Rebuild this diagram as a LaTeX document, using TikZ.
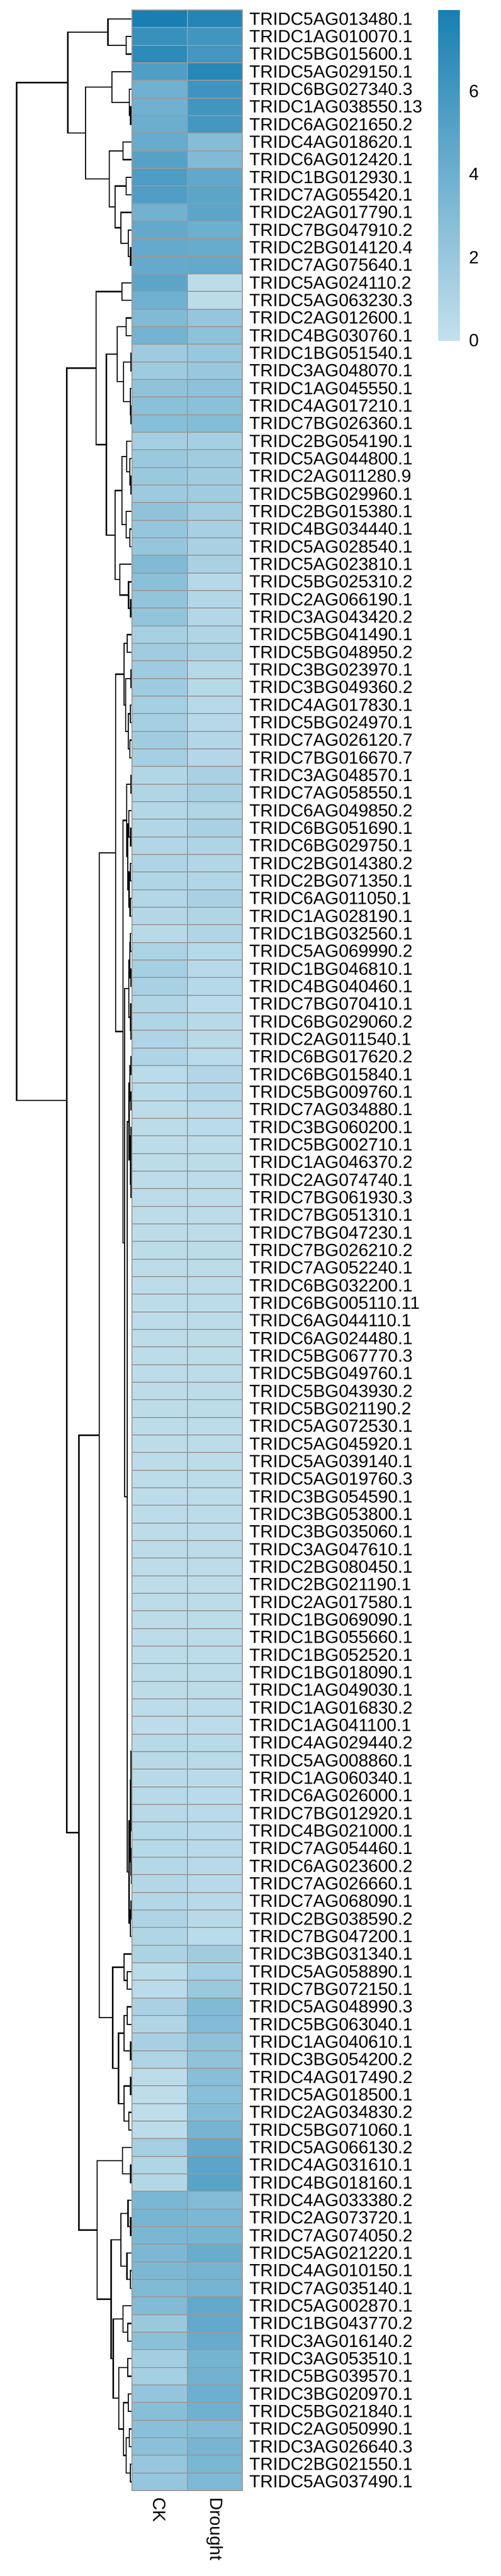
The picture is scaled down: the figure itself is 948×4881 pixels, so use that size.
\documentclass[tikz,border=0pt]{standalone}
\usepackage{fontspec}
\setmainfont{Liberation Sans}
\usetikzlibrary{calc}

\definecolor{heatlo}{RGB}{195,224,236}
\definecolor{heathi}{RGB}{25,127,178}
\definecolor{cellline}{RGB}{153,153,153}
\newcommand\labfont{\fontsize{16.75pt}{20pt}\selectfont}

% one merge of the row tree: name, height, upper child, lower child
\newcommand\treemerge[4]{%
  \path let \p1=(#3), \p2=(#4), \p3=(#2,0) in coordinate (#1) at (\x3,{(\y1+\y2)/2});
  \draw[tree] (#3) -| (#1) |- (#4);}

\begin{document}
\begin{tikzpicture}[x=0.5pt, y=-0.5pt,
  tree/.style={draw=black, line width=1.2pt},
  cell/.style={draw=cellline, line width=1pt},
  rowlab/.style={anchor=west, inner sep=0pt, font=\labfont},
  collab/.style={anchor=west, inner sep=0pt, rotate=-90, font=\labfont},
  keylab/.style={anchor=west, inner sep=0pt, font=\labfont}]

\useasboundingbox (0,0) rectangle (948,4881);

% Leaves of the tree
\foreach \i in {1,...,141}
  \coordinate (l\i) at (250,{19.1+(\i-0.5)*33.333});
\coordinate (mZ) at (250,3318);

% Row tree
\foreach \nm/\hx/\ca/\cb in {
  m23/238.7/l2/l3, m1/204.3/l1/m23, m67/247.5/l6/l7, m5/245/l5/m67, m4/212/l4/m5,
  m89/233/l8/l9, m1011/239/l10/l11, m1415/247.5/l14/l15, m13/243/l13/m1415,
  m12/229/l12/m13, m1015/218/m1011/m12, m815/207/m89/m1015, m415/162/m4/m815,
  m115/128.5/m1/m415,
  m1617/231/l16/l17, m1819/239/l18/l19, m2021/248.2/l20/l21, m2324/248/l23/l24,
  m22/247/l22/m2324, m2024/234/m2021/m22, m1824/222/m1819/m2024,
  m2728/248.2/l27/l28, m26/246/l26/m2728, m25/240/l25/m26, m3031/246/l30/l31,
  m29/239/l29/m3031, m2531/231/m25/m29, m3435/247.5/l34/l35, m33/243.5/l33/m3435,
  m32/227/l32/m33, m2535/218/m2531/m32, m1835/201.6/m1824/m2535,
  m1635/182/m1617/m1835,
  m3637/241/l36/l37, m3839/248/l38/l39, m4041/247/l40/l41, m4243/246/l42/l43,
  m4043/243/m4041/m4243, m3843/238/m3839/m4043, m3643/235/m3637/m3843,
  m4445/248/l44/l45, m4748/247.5/l47/l48, m46/244/l46/m4748, m4950/247/l49/l50,
  m5152/246.5/l51/l52, m4952/244.5/m4950/m5152, m4652/241.7/m46/m4952,
  m4452/240/m4445/m4652,
  m5354/247/l53/l54, m5556/248/l55/l56, m5356/246/m5354/m5556, m5859/248.3/l58/l59,
  m57/247.5/l57/m5859, m5359/244/m5356/m57,
  m6061/248/l60/l61, m6263/248.3/l62/l63, m6063/246/m6061/m6263,
  m6465/248.5/l64/l65, m6667/249/l66/l67, m6668/248.5/m6667/l68,
  m6468/247.5/m6465/m6668, mT/244.3/m6063/m6468,
  m1034/248.5/l103/l104, m102/247.5/l102/m1034, mZ2/248.3/mZ/m102,
  m1067/249/l106/l107, m105/248.5/l105/m1067, mB1/246.7/mZ2/m105,
  m1089/248.3/l108/l109, m110/246.7/m1089/l110, mB/244.3/mB1/m110,
  m241/241/mT/mB, m235/235.7/m5359/m241, m233/233/m4452/m235,
  m219/219/m3643/m233,
  m1123/240.8/l112/l113, m111/234.7/l111/m1123, m1145/240.8/l114/l115,
  m1167/247.4/l116/l117, m1147/234.7/m1145/m1167, m1189/247.4/l118/l119,
  m1201/243.9/l120/l121, m1181/234.7/m1189/m1201, m1141/224.5/m1147/m1181,
  m1111/213.3/m111/m1141, m188/188/m219/m1111,
  m1234/247.4/l123/l124, m122/232/l122/m1234,
  m1267/247.4/l126/l127, m125/242.3/l125/m1267, m1290/246.7/l129/l130,
  m128/240.6/l128/m1290, m1250/229/m125/m128, m1323/241.8/l132/l133,
  m131/232.8/l131/m1323, m1345/241.8/l134/l135, m1367/243/l136/l137,
  m1389/244.9/l138/l139, m1401/246.7/l140/l141, m1381/238.8/m1389/m1401,
  m1361/234/m1367/m1381, m1341/225/m1345/m1361, m1311/214.6/m131/m1341,
  m1251/210.5/m1250/m1311, m1221/183.7/m122/m1251,
  m36141/149.5/m188/m1221, m16141/126.5/m1635/m36141, mroot/31.6/m115/m16141}
  {\treemerge{\nm}{\hx}{\ca}{\cb}}

% Heatmap cells (CK / Drought)
\foreach \ck/\dr [count=\i] in {
  7.95/7.4, 6.5/6.1, 7.0/6.0, 5.4/7.3, 3.9/6.2, 3.9/6.1, 4.1/6.0, 4.3/2.9, 5.1/3.1, 5.5/4.6,
  5.4/4.8, 3.8/4.8, 4.5/4.0, 4.4/4.3, 4.4/4.5, 4.8/0.3, 3.9/0.3, 3.1/2.1, 3.7/2.5, 1.7/2.0,
  1.7/2.0, 2.4/2.5, 2.6/2.6, 2.8/2.9, 1.4/1.4, 1.9/1.6, 1.9/1.6, 1.8/1.6, 2.4/1.5, 2.1/1.3,
  2.1/1.2, 3.1/1.2, 2.6/0.6, 2.3/0.7, 2.3/0.7, 1.3/0.9, 1.6/1.1, 1.7/0.6, 1.7/0.6, 1.4/0.6,
  1.4/0.6, 1.6/0.7, 1.4/0.7, 0.8/1.2, 0.9/1.3, 0.7/0.9, 0.8/1.2, 0.8/1.0, 1.0/0.8, 0.9/0.8,
  0.7/1.2, 0.7/0.9, 0.5/0.9, 1.1/0.6, 1.4/0.5, 1.2/0.6, 0.9/0.4, 0.9/0.5, 1.0/0.5, 1.0/0.4,
  0.4/0.8, 0.4/0.7, 0.3/0.4, 0.3/0.4, 0.3/0.35, 0.3/0.35, 0.3/0.35, 0.3/0.35, 0.3/0.35, 0.3/0.35,
  0.3/0.35, 0.3/0.35, 0.3/0.35, 0.3/0.35, 0.3/0.35, 0.3/0.35, 0.3/0.35, 0.3/0.35, 0.3/0.35, 0.3/0.35,
  0.3/0.35, 0.3/0.35, 0.3/0.35, 0.3/0.35, 0.3/0.35, 0.3/0.35, 0.3/0.35, 0.3/0.35, 0.3/0.35, 0.3/0.35,
  0.3/0.35, 0.3/0.35, 0.3/0.35, 0.3/0.35, 0.3/0.35, 0.3/0.35, 0.3/0.35, 0.3/0.35, 0.5/0.45, 0.5/0.45,
  0.5/0.45, 0.55/0.45, 0.55/0.45, 0.6/0.45, 0.6/0.45, 0.65/0.5, 0.7/0.5, 0.75/0.5, 1.0/0.5, 0.9/0.4,
  1.1/1.6, 0.4/1.4, 0.4/1.9, 1.2/3.1, 0.9/3.0, 1.3/2.5, 1.0/2.4, 0.35/2.8, 0.25/2.7, 0.25/2.9,
  0.35/3.6, 1.4/4.4, 0.9/4.8, 0.7/5.0, 3.4/3.0, 3.5/3.3, 3.4/3.5, 3.3/4.2, 3.3/3.6, 3.1/3.6,
  3.0/4.5, 1.9/4.5, 2.6/4.3, 1.5/3.7, 1.4/3.8, 2.2/4.0, 2.8/3.9, 2.7/3.0, 2.6/3.5, 2.1/3.4, 2.1/3.2}
{
  \pgfmathsetmacro\yt{19.1+(\i-1)*33.333}
  \pgfmathsetmacro\yb{\yt+33.333}
  \pgfmathsetmacro\pc{min(100,\ck/7.95*100)}
  \pgfmathsetmacro\pd{min(100,\dr/7.95*100)}
  \draw[cell, fill=heathi!\pc!heatlo] (250,\yt) rectangle (354.5,\yb);
  \draw[cell, fill=heathi!\pd!heatlo] (354.5,\yt) rectangle (459,\yb);
}

% Row labels
\foreach \lab [count=\i] in {
  TRIDC5AG013480.1, TRIDC1AG010070.1, TRIDC5BG015600.1, TRIDC5AG029150.1, TRIDC6BG027340.3,
  TRIDC1AG038550.13, TRIDC6AG021650.2, TRIDC4AG018620.1, TRIDC6AG012420.1, TRIDC1BG012930.1,
  TRIDC7AG055420.1, TRIDC2AG017790.1, TRIDC7BG047910.2, TRIDC2BG014120.4, TRIDC7AG075640.1,
  TRIDC5AG024110.2, TRIDC5AG063230.3, TRIDC2AG012600.1, TRIDC4BG030760.1, TRIDC1BG051540.1,
  TRIDC3AG048070.1, TRIDC1AG045550.1, TRIDC4AG017210.1, TRIDC7BG026360.1, TRIDC2BG054190.1,
  TRIDC5AG044800.1, TRIDC2AG011280.9, TRIDC5BG029960.1, TRIDC2BG015380.1, TRIDC4BG034440.1,
  TRIDC5AG028540.1, TRIDC5AG023810.1, TRIDC5BG025310.2, TRIDC2AG066190.1, TRIDC3AG043420.2,
  TRIDC5BG041490.1, TRIDC5BG048950.2, TRIDC3BG023970.1, TRIDC3BG049360.2, TRIDC4AG017830.1,
  TRIDC5BG024970.1, TRIDC7AG026120.7, TRIDC7BG016670.7, TRIDC3AG048570.1, TRIDC7AG058550.1,
  TRIDC6AG049850.2, TRIDC6BG051690.1, TRIDC6BG029750.1, TRIDC2BG014380.2, TRIDC2BG071350.1,
  TRIDC6AG011050.1, TRIDC1AG028190.1, TRIDC1BG032560.1, TRIDC5AG069990.2, TRIDC1BG046810.1,
  TRIDC4BG040460.1, TRIDC7BG070410.1, TRIDC6BG029060.2, TRIDC2AG011540.1, TRIDC6BG017620.2,
  TRIDC6BG015840.1, TRIDC5BG009760.1, TRIDC7AG034880.1, TRIDC3BG060200.1, TRIDC5BG002710.1,
  TRIDC1AG046370.2, TRIDC2AG074740.1, TRIDC7BG061930.3, TRIDC7BG051310.1, TRIDC7BG047230.1,
  TRIDC7BG026210.2, TRIDC7AG052240.1, TRIDC6BG032200.1, TRIDC6BG005110.11, TRIDC6AG044110.1,
  TRIDC6AG024480.1, TRIDC5BG067770.3, TRIDC5BG049760.1, TRIDC5BG043930.2, TRIDC5BG021190.2,
  TRIDC5AG072530.1, TRIDC5AG045920.1, TRIDC5AG039140.1, TRIDC5AG019760.3, TRIDC3BG054590.1,
  TRIDC3BG053800.1, TRIDC3BG035060.1, TRIDC3AG047610.1, TRIDC2BG080450.1, TRIDC2BG021190.1,
  TRIDC2AG017580.1, TRIDC1BG069090.1, TRIDC1BG055660.1, TRIDC1BG052520.1, TRIDC1BG018090.1,
  TRIDC1AG049030.1, TRIDC1AG016830.2, TRIDC1AG041100.1, TRIDC4AG029440.2, TRIDC5AG008860.1,
  TRIDC1AG060340.1, TRIDC6AG026000.1, TRIDC7BG012920.1, TRIDC4BG021000.1, TRIDC7AG054460.1,
  TRIDC6AG023600.2, TRIDC7AG026660.1, TRIDC7AG068090.1, TRIDC2BG038590.2, TRIDC7BG047200.1,
  TRIDC3BG031340.1, TRIDC5AG058890.1, TRIDC7BG072150.1, TRIDC5AG048990.3, TRIDC5BG063040.1,
  TRIDC1AG040610.1, TRIDC3BG054200.2, TRIDC4AG017490.2, TRIDC5AG018500.1, TRIDC2AG034830.2,
  TRIDC5BG071060.1, TRIDC5AG066130.2, TRIDC4AG031610.1, TRIDC4BG018160.1, TRIDC4AG033380.2,
  TRIDC2AG073720.1, TRIDC7AG074050.2, TRIDC5AG021220.1, TRIDC4AG010150.1, TRIDC7AG035140.1,
  TRIDC5AG002870.1, TRIDC1BG043770.2, TRIDC3AG016140.2, TRIDC3AG053510.1, TRIDC5BG039570.1,
  TRIDC3BG020970.1, TRIDC5BG021840.1, TRIDC2AG050990.1, TRIDC3AG026640.3, TRIDC2BG021550.1,
  TRIDC5AG037490.1}
  \node[rowlab] (lab\i) at (472,{19.1+(\i-0.5)*33.333}) {\lab};

% Column labels
\node[collab] (ck) at (302.3,4732) {CK};
\node[collab] (drought) at (406.8,4732) {Drought};

% Colour key
\shade[bottom color=heatlo, top color=heathi] (830,19.5) rectangle (871,645);
\node[keylab] (key6) at (888,172.8) {6};
\node[keylab] (key4) at (888,330.2) {4};
\node[keylab] (key2) at (888,487.6) {2};
\node[keylab] (key0) at (888,645) {0};

\end{tikzpicture}
\end{document}
